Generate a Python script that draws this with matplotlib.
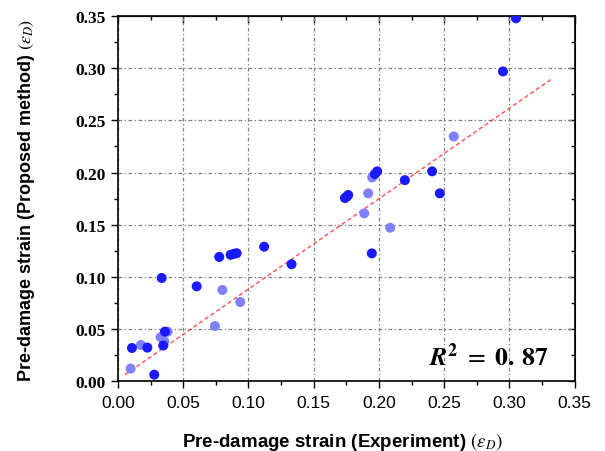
import numpy as np
import matplotlib
matplotlib.use("Agg")
import matplotlib.pyplot as plt
from matplotlib.ticker import MultipleLocator

# dark blue points (experiment, proposed)
x_dark = [0.0335, 0.0603, 0.036, 0.0347, 0.0107, 0.0225, 0.0278,
          0.0776, 0.0863, 0.0888, 0.0909, 0.112, 0.133,
          0.1986, 0.1968, 0.2407, 0.2198, 0.1764, 0.1752, 0.1739,
          0.2466, 0.1945, 0.305, 0.295]
y_dark = [0.0988, 0.0908, 0.0473, 0.034, 0.0316, 0.032, 0.006,
          0.119, 0.121, 0.122, 0.1225, 0.1288, 0.112,
          0.2011, 0.1985, 0.2011, 0.1927, 0.1784, 0.1767, 0.1755,
          0.180, 0.1224, 0.348, 0.297]

# light blue points
x_light = [0.080, 0.0937, 0.0743, 0.038, 0.0327, 0.0355, 0.0176, 0.0097,
           0.2573, 0.1948, 0.1917, 0.1887, 0.2086]
y_light = [0.0873, 0.0757, 0.0527, 0.0473, 0.042, 0.038, 0.0345, 0.0118,
           0.2346, 0.1953, 0.180, 0.1608, 0.147]

# fitted line
fit_x = [0.0054, 0.3316]
fit_slope = 0.868
fit_intercept = 0.0013
r2_text = r'$\mathbfit{R}^{\mathbf{2}}\ =\ \mathbf{0.\,87}$'

tick_vals = np.arange(0, 0.351, 0.05)
tick_labels = [f'{v:.2f}' for v in tick_vals]

plt.rcParams['mathtext.fontset'] = 'stix'

fig = plt.figure(figsize=(6.05, 4.52), dpi=100)
ax = fig.add_axes([0.195, 0.155, 0.755, 0.807])

ax.scatter(x_light, y_light, s=52, color='#8080ff', edgecolors='none', zorder=3)
ax.scatter(x_dark, y_dark, s=52, color='#1a1aff', edgecolors='none', zorder=4)

fx = np.array(fit_x)
ax.plot(fx, fit_slope * fx + fit_intercept, color='#ff3030', linestyle=(0, (3, 2)),
        linewidth=1.0, alpha=0.85, zorder=2)

ax.set_xlim(0, 0.35)
ax.set_ylim(0, 0.35)
ax.xaxis.set_minor_locator(MultipleLocator(0.025))
ax.yaxis.set_minor_locator(MultipleLocator(0.025))

ax.grid(True, which='major', color='#808080', linestyle=(0, (3, 2, 1, 2)), linewidth=0.9)
ax.set_axisbelow(True)

ax.tick_params(which='both', direction='out', bottom=True, left=True, top=False, right=False)
ax.tick_params(which='major', length=5, width=1)
ax.tick_params(which='minor', length=3, width=1)
ax.tick_params(axis='x', which='major', pad=5)
ax.tick_params(axis='y', which='major', pad=4)

# inward ticks on top and right
ax_top = ax.secondary_xaxis('top')
ax_top.xaxis.set_major_locator(MultipleLocator(0.05))
ax_top.xaxis.set_minor_locator(MultipleLocator(0.025))
ax_top.tick_params(which='both', direction='in', labeltop=False)
ax_top.tick_params(which='major', length=5, width=1)
ax_top.tick_params(which='minor', length=3, width=1)
ax_right = ax.secondary_yaxis('right')
ax_right.yaxis.set_major_locator(MultipleLocator(0.05))
ax_right.yaxis.set_minor_locator(MultipleLocator(0.025))
ax_right.tick_params(which='both', direction='in', labelright=False)
ax_right.tick_params(which='major', length=5, width=1)
ax_right.tick_params(which='minor', length=3, width=1)

ax.set_xticks(tick_vals)
ax.set_xticklabels(tick_labels, fontfamily='Liberation Sans', fontsize=12.5)
ax.set_yticks(tick_vals)
ax.set_yticklabels(tick_labels, fontfamily='Liberation Serif', fontsize=12.5, fontweight='bold')

for sp in ax.spines.values():
    sp.set_linewidth(1.2)

ax.set_xlabel(r'Pre-damage strain (Experiment) $(\varepsilon_D)$',
              fontfamily='Liberation Sans', fontweight='bold', fontsize=13.5, va='center')
ax.xaxis.set_label_coords(0.492, -0.164)
ax.set_ylabel(r'Pre-damage strain (Proposed method) $(\varepsilon_D)$',
              fontfamily='Liberation Sans', fontweight='bold', fontsize=13, va='center')
ax.yaxis.set_label_coords(-0.201, 0.499)

ax.text(0.284, 0.023, r2_text, fontsize=18.5, ha='center', va='center', zorder=5)

fig.savefig('out.png', dpi=100)
